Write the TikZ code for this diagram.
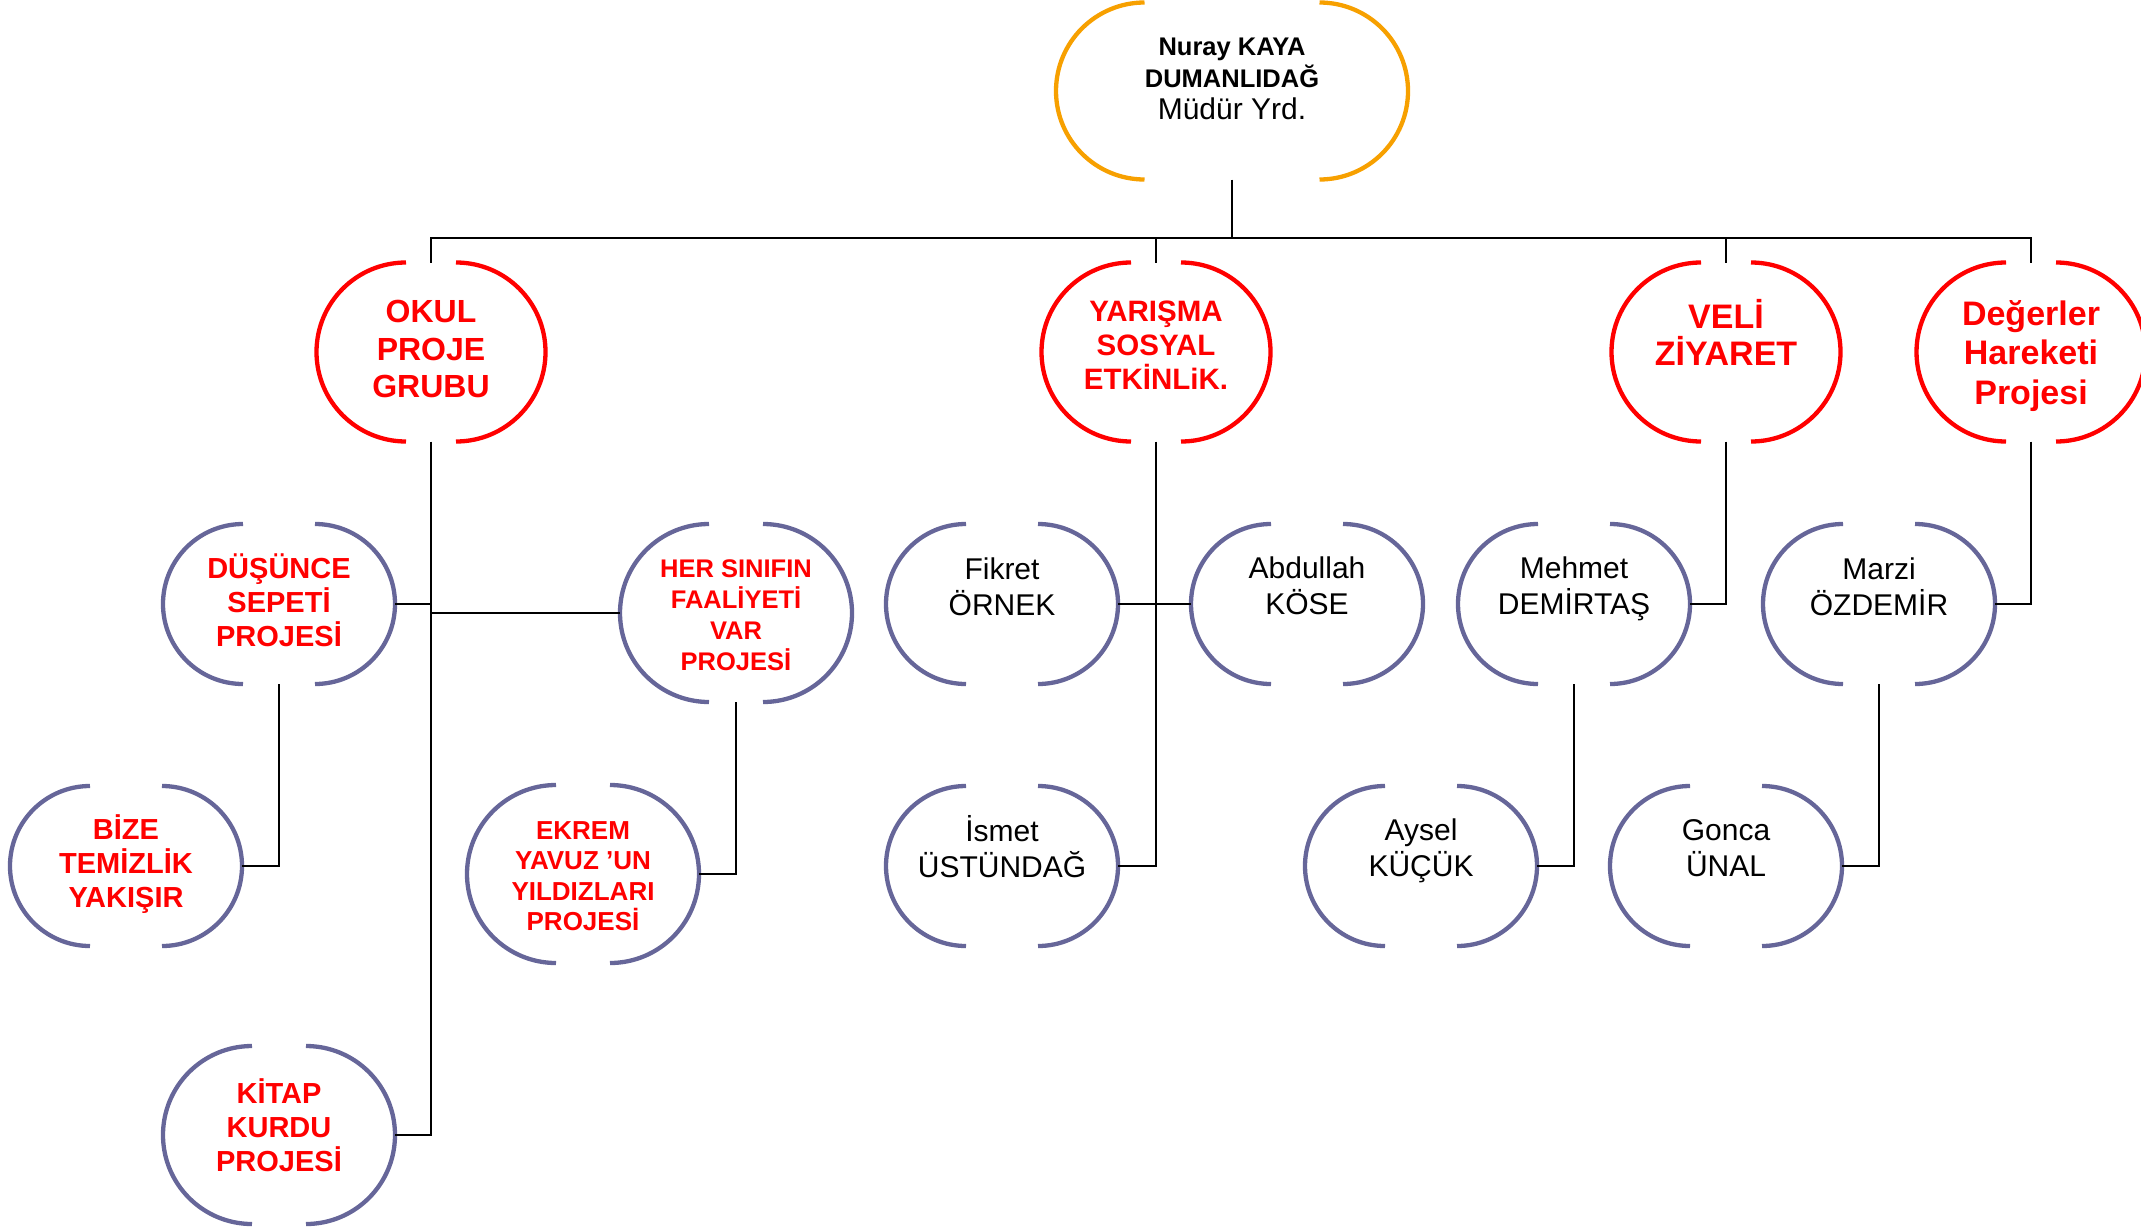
\documentclass[tikz,border=0pt]{standalone}
\usepackage{fontspec}
\setmainfont{Liberation Sans}
\usetikzlibrary{calc}
\definecolor{orng}{RGB}{247,160,0}
\definecolor{rd}{RGB}{255,0,0}
\definecolor{slate}{RGB}{102,102,153}
\tikzset{
 box/.style={inner sep=0pt, outer sep=0pt, draw=none},
 arcO/.style={draw=orng, line width=4.3pt},
 arcR/.style={draw=rd, line width=4.3pt},
 arcB/.style={draw=slate, line width=4.3pt},
 conn/.style={draw=black, line width=1.8pt},
 txt/.style={inner sep=0pt, align=center},
 redt/.style={txt, text=rd},
 blkt/.style={txt, text=black},
}
% name, cx, cy, radius, half gap, arc style, text style, text shift, text
\newcommand\bnode[9]{%
 \node[box, minimum width={2*(#4+#5)*1pt}, minimum height={2*#4*1pt}] (#1) at (#2,#3) {};
 \draw[#6] ({#2-#5},{#3-#4}) arc[start angle=90,end angle=270,radius=#4pt];
 \draw[#6] ({#2+#5},{#3-#4}) arc[start angle=90,end angle=-90,radius=#4pt];
 \node[#7] (#1-t) at ({#2},{#3+#8}) {#9};
}
\begin{document}
\begin{tikzpicture}[x=1pt,y=-1pt]
\useasboundingbox (0,0) rectangle (2141,1226);

% top
\bnode{top}{1232}{91}{88.5}{87.5}{arcO}{blkt,font=\bfseries\fontsize{25.5}{32}\selectfont}{-12}{Nuray KAYA\\DUMANLIDAĞ\\{\mdseries\fontsize{30}{35}\selectfont Müdür Yrd.}}

% level 1
\bnode{okul}{431}{352}{89.5}{25}{arcR}{redt,font=\bfseries\fontsize{32}{37.5}\selectfont}{-3}{OKUL\\PROJE\\GRUBU}
\bnode{yar}{1156}{352}{89.5}{25}{arcR}{redt,font=\bfseries\fontsize{29.5}{34}\selectfont}{-7}{YARIŞMA\\SOSYAL\\ETKİNLiK.}
\bnode{veli}{1726}{352}{89.5}{25}{arcR}{redt,font=\bfseries\fontsize{34}{37}\selectfont}{-20}{VELİ\\ZİYARET}
\bnode{deg}{2031}{352}{89.5}{25}{arcR}{redt,font=\bfseries\fontsize{34}{39.5}\selectfont}{4}{Değerler\\Hareketi\\Projesi}

% level 2
\bnode{dus}{279}{604}{80}{36}{arcB}{redt,font=\bfseries\fontsize{29}{34}\selectfont}{-4}{DÜŞÜNCE\\SEPETİ\\PROJESİ}
\bnode{her}{736}{613}{89}{27}{arcB}{redt,font=\bfseries\fontsize{25.5}{31}\selectfont}{2}{HER SINIFIN\\FAALİYETİ\\VAR\\PROJESİ}
\bnode{fik}{1002}{604}{80}{36}{arcB}{blkt,font=\fontsize{30}{36}\selectfont}{-17}{Fikret\\ÖRNEK}
\bnode{abd}{1307}{604}{80}{36}{arcB}{blkt,font=\fontsize{30}{36}\selectfont}{-18}{Abdullah\\KÖSE}
\bnode{meh}{1574}{604}{80}{36}{arcB}{blkt,font=\fontsize{30}{36}\selectfont}{-15}{Mehmet\\DEMİRTAŞ}
\bnode{mar}{1879}{604}{80}{36}{arcB}{blkt,font=\fontsize{30}{36}\selectfont}{-17}{Marzi\\ÖZDEMİR}

% level 3
\bnode{bize}{126}{866}{80}{36}{arcB}{redt,font=\bfseries\fontsize{29}{34}\selectfont}{-2}{BİZE\\TEMİZLİK\\YAKIŞIR}
\bnode{ekrem}{583}{874}{89}{27}{arcB}{redt,font=\bfseries\fontsize{26}{30.5}\selectfont}{2}{EKREM\\YAVUZ ’UN\\YILDIZLARI\\PROJESİ}
\bnode{ismet}{1002}{866}{80}{36}{arcB}{blkt,font=\fontsize{30}{36}\selectfont}{-19}{İsmet\\ÜSTÜNDAĞ}
\bnode{ays}{1421}{866}{80}{36}{arcB}{blkt,font=\fontsize{30}{36}\selectfont}{-15}{Aysel\\KÜÇÜK}
\bnode{gon}{1726}{866}{80}{36}{arcB}{blkt,font=\fontsize{30}{36}\selectfont}{-18}{Gonca\\ÜNAL}

% level 4
\bnode{kitap}{279}{1135}{89}{27}{arcB}{redt,font=\bfseries\fontsize{29}{34}\selectfont}{-10}{KİTAP\\KURDU\\PROJESİ}

% connectors
\coordinate (bus) at (0,238);
\draw[conn] (top.south) -- (top.south |- bus);
\draw[conn] (okul.north) -- (okul.north |- bus) -- (deg.north |- bus) -- (deg.north);
\draw[conn] (yar.north) -- (yar.north |- bus);
\draw[conn] (veli.north) -- (veli.north |- bus);

\draw[conn] (okul.south) |- (kitap.east);
\draw[conn] (dus.east) -- (dus.east -| okul.south);
\draw[conn] (her.west) -- (her.west -| okul.south);
\draw[conn] (dus.south) |- (bize.east);
\draw[conn] (her.south) |- (ekrem.east);

\draw[conn] (yar.south) |- (ismet.east);
\draw[conn] (fik.east) -- (abd.west);

\draw[conn] (veli.south) |- (meh.east);
\draw[conn] (meh.south) |- (ays.east);
\draw[conn] (deg.south) |- (mar.east);
\draw[conn] (mar.south) |- (gon.east);
\end{tikzpicture}
\end{document}
